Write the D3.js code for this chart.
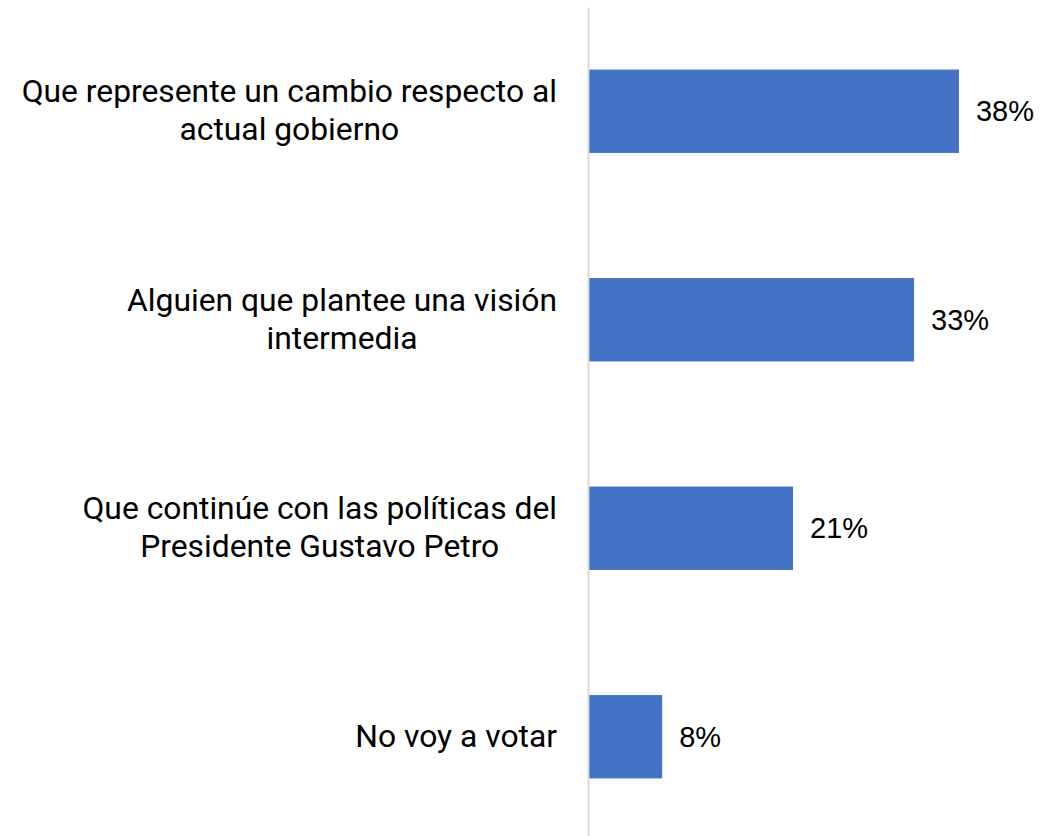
<!DOCTYPE html>
<html>
<head>
<meta charset="utf-8">
<script src="https://cdn.jsdelivr.net/npm/d3@7"></script>
<style>
  html, body { margin: 0; padding: 0; background: #fff; }
  svg { display: block; }
</style>
</head>
<body>
<svg id="chart" width="1048" height="836"></svg>
<script>
const categories = [
  "Que represente un cambio respecto al actual gobierno",
  "Alguien que plantee una visión intermedia",
  "Que continúe con las políticas del Presidente Gustavo Petro",
  "No voy a votar"
];
const categoryLines = [
  ["Que represente un cambio respecto al", "actual gobierno"],
  ["Alguien que plantee una visión", "intermedia"],
  ["Que continúe con las políticas del", "Presidente Gustavo Petro"],
  ["No voy a votar"]
];
const values = [38, 33.4, 21, 7.6];
const valueLabels = ["38%", "33%", "21%", "8%"];

const svg = d3.select("#chart");

const y = d3.scaleBand()
  .domain(categories)
  .range([7, 841])
  .paddingInner(0.6)
  .paddingOuter(0.3);

const x = d3.scaleLinear()
  .domain([0, 40])
  .range([588, 978.5]);

// bars
svg.append("g").selectAll("rect")
  .data(categories)
  .join("rect")
  .attr("x", x(0) + 1)
  .attr("y", d => y(d))
  .attr("width", (d, i) => x(values[i]) - x(0) - 1)
  .attr("height", y.bandwidth())
  .attr("fill", "#4472c4");

// axis line
const axis = svg.append("g")
  .attr("transform", `translate(${x(0)},0)`)
  .call(d3.axisLeft(y).tickSize(0).tickFormat(""));
axis.select(".domain").attr("stroke", "#d9d9d9").attr("stroke-width", 2);

// value labels
svg.append("g").selectAll("text")
  .data(categories)
  .join("text")
  .attr("x", (d, i) => x(values[i]) + 17)
  .attr("y", d => y(d) + y.bandwidth() / 2)
  .attr("dy", "0.35em")
  .attr("font-family", "'Liberation Sans', Arial, sans-serif")
  .attr("font-size", 29)
  .attr("fill", "#000")
  .text((d, i) => valueLabels[i]);

// category labels (centered blocks, right-aligned to the axis)
const rightEdge = 557;
const lineH = 38;
const labelG = svg.append("g");
categories.forEach((c, i) => {
  const lines = categoryLines[i];
  const t = labelG.append("text")
    .attr("font-family", "Roboto, sans-serif")
    .attr("font-size", 31.8)
    .attr("fill", "#000")
    .attr("text-anchor", "middle");
  const cy = y(c) + y.bandwidth() / 2;
  const tsp = t.selectAll("tspan").data(lines).join("tspan")
    .attr("y", (d, j) => cy + (j - (lines.length - 1) / 2) * lineH)
    .attr("dy", "0.32em")
    .text(d => d);
  let maxW = 0;
  tsp.each(function() { maxW = Math.max(maxW, this.getComputedTextLength()); });
  tsp.attr("x", rightEdge - maxW / 2);
});
</script>
</body>
</html>
